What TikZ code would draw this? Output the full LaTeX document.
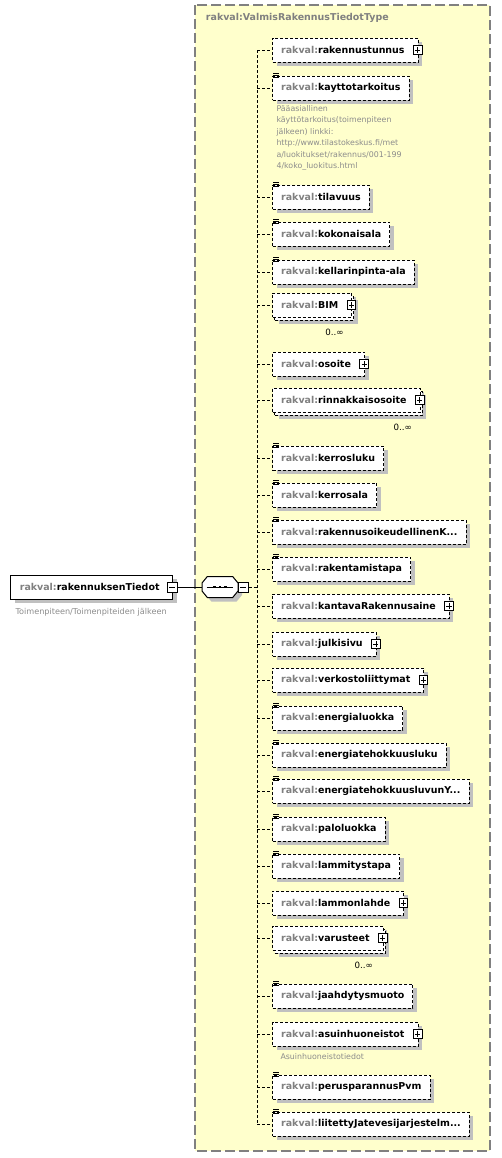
\documentclass[tikz,border=0pt]{standalone}
\usepackage{fontspec}
\setmainfont{DejaVu Sans}
\usetikzlibrary{positioning}
\usetikzlibrary{shadows}

\definecolor{rkgrey}{RGB}{128,128,128}
\definecolor{rknote}{RGB}{140,140,140}
\definecolor{rkyellow}{RGB}{255,255,204}
\definecolor{rkshadow}{RGB}{192,192,192}
\newcommand{\rk}[1]{{\color{rkgrey}rakval:}#1}
\newcommand{\listicon}[1]{%
  \foreach \d in {1.5,0,-1.5}
    \draw[line width=0.45pt] ([xshift=0.9pt, yshift=\d pt]#1.north west) -- ++(4.5pt,0);}

\tikzset{
  dotline/.style={dash pattern=on 2.25pt off 1.5pt},
  rkshade/.style={drop shadow={shadow xshift=3pt, shadow yshift=-3pt, opacity=1, fill=rkshadow}},
  elem/.style={draw, dotline, fill=white, anchor=west, minimum height=18pt,
    inner xsep=6.5pt, inner ysep=1pt, font=\fontsize{7.1}{8}\selectfont\bfseries, rkshade},
  elemx/.style={elem, execute at end node={\hspace{3.75pt}}},
  multi/.style={
    drop shadow={shadow xshift=4.5pt, shadow yshift=-5.25pt, opacity=1, fill=rkshadow},
    general shadow={shadow xshift=1.5pt, shadow yshift=-2.25pt, draw=black, fill=white, dotline}},
  plusbox/.style={draw, solid, fill=white, minimum size=6.5pt, inner sep=0pt,
    line width=0.5pt,
    path picture={
      \draw ([yshift=-1.3pt]path picture bounding box.north) -- ([yshift=1.3pt]path picture bounding box.south);
      \draw ([xshift=1.3pt]path picture bounding box.west) -- ([xshift=-1.3pt]path picture bounding box.east);}},
  minusbox/.style={draw, solid, fill=white, minimum size=7.5pt, inner sep=0pt,
    line width=0.5pt,
    path picture={
      \draw ([xshift=1.5pt]path picture bounding box.west) -- ([xshift=-1.5pt]path picture bounding box.east);}},
  seqbox/.style={minimum width=26.25pt, minimum height=15pt, inner sep=0pt},
  note/.style={text=rknote, align=left, inner sep=0pt, font=\fontsize{5.9}{8.55}\selectfont},
  many/.style={font=\fontsize{6.5}{7}\selectfont, anchor=north, inner sep=0pt}
}

\begin{document}
\begin{tikzpicture}[x=0.75pt, y=-0.75pt, line width=0.75pt]
    \useasboundingbox (0,0) rectangle (501,1158);
    \draw[draw=rkgrey, fill=rkyellow, line width=1.1pt, dash pattern=on 7.5pt off 3pt] (195,5) rectangle (490,1151);
    \node[anchor=west, text=rkgrey, font=\fontsize{7.1}{8}\selectfont\bfseries] (typename) at (201,18) {rakval:ValmisRakennusTiedotType};

    \node[elem, solid, inner xsep=7pt, execute at end node={\hspace{3pt}}] (tiedot) at (10,587) {\rk{rakennuksenTiedot}};
    \node[minusbox] (tiedot-minus) at ([xshift=-0.75pt]tiedot.east) {};
    \node[note, anchor=west, font=\fontsize{6.1}{8}\selectfont] (tiedotnote) at (15,612) {Toimenpiteen/Toimenpiteiden jälkeen};
    % sequence compositor
    \node[seqbox] (seq) at (220,587) {};
    \draw[fill=white, rkshade] ([yshift=3pt]seq.west) -- ([xshift=4pt]seq.north west)
      -- ([xshift=-4pt]seq.north east) -- ([yshift=3pt]seq.east) -- ([yshift=-3pt]seq.east)
      -- ([xshift=-4pt]seq.south east) -- ([xshift=4pt]seq.south west) -- ([yshift=-3pt]seq.west) -- cycle;
    \draw ([xshift=3.5pt]seq.west) -- ([xshift=-3.5pt]seq.east);
    \foreach \dx in {-3.8,0,3.8}
      \fill ([xshift=\dx pt]seq.center) +(-1.1pt,-1.1pt) rectangle +(1.1pt,1.1pt);
    \node[minusbox, anchor=west] (seq-minus) at (seq.east) {};
    \coordinate (trunk) at (257,587);

    \node[elemx] (rakennustunnus) at (272,50) {\rk{rakennustunnus}};
    \node[elem] (kayttotarkoitus) at (272,88) {\rk{kayttotarkoitus}};
    \node[note, anchor=north west] (kayttonote) at (276,105) {Pääasiallinen\\käyttötarkoitus(toimenpiteen\\jälkeen) linkki:\\http://www.tilastokeskus.fi/met\\a/luokitukset/rakennus/001-199\\4/koko\_luokitus.html};
    \node[elem] (tilavuus) at (272,197) {\rk{tilavuus}};
    \node[elem] (kokonaisala) at (272,234) {\rk{kokonaisala}};
    \node[elem] (kellari) at (272,272) {\rk{kellarinpinta-ala}};
    \node[elemx, multi] (bim) at (272,305) {\rk{BIM}};
    \node[many] (bim-many) at ([xshift=-13.5pt, yshift=-8pt]bim.south east) {0..∞};
    \node[elemx] (osoite) at (272,364) {\rk{osoite}};
    \node[elemx, multi] (rinnakkais) at (272,400) {\rk{rinnakkaisosoite}};
    \node[many] (rinnakkais-many) at ([xshift=-13.5pt, yshift=-8pt]rinnakkais.south east) {0..∞};
    \node[elem] (kerrosluku) at (272,458) {\rk{kerrosluku}};
    \node[elem] (kerrosala) at (272,495) {\rk{kerrosala}};
    \node[elem] (oikeus) at (272,532) {\rk{rakennusoikeudellinenK...}};
    \node[elem] (rakentamistapa) at (272,569) {\rk{rakentamistapa}};
    \node[elemx] (kantava) at (272,606) {\rk{kantavaRakennusaine}};
    \node[elemx] (julkisivu) at (272,644) {\rk{julkisivu}};
    \node[elemx] (verkosto) at (272,680) {\rk{verkostoliittymat}};
    \node[elem] (energialuokka) at (272,718) {\rk{energialuokka}};
    \node[elem] (etluku) at (272,755) {\rk{energiatehokkuusluku}};
    \node[elem] (etluvun) at (272,791) {\rk{energiatehokkuusluvunY...}};
    \node[elem] (paloluokka) at (272,829) {\rk{paloluokka}};
    \node[elem] (lammitystapa) at (272,866) {\rk{lammitystapa}};
    \node[elemx] (lammonlahde) at (272,903) {\rk{lammonlahde}};
    \node[elemx, multi] (varusteet) at (272,938) {\rk{varusteet}};
    \node[many] (varusteet-many) at ([xshift=-15pt, yshift=-8pt]varusteet.south east) {0..∞};
    \node[elem] (jaahdytys) at (272,996) {\rk{jaahdytysmuoto}};
    \node[elemx] (asuin) at (272,1034) {\rk{asuinhuoneistot}};
    \node[note, anchor=west] (asuinnote) at (280,1057) {Asuinhuoneistotiedot};
    \node[elem] (perusparannus) at (272,1087) {\rk{perusparannusPvm}};
    \node[elem] (liitetty) at (272,1124) {\rk{liitettyJatevesijarjestelm...}};

    % expand boxes and list icons
    \foreach \n in {rakennustunnus,bim,osoite,rinnakkais,kantava,julkisivu,verkosto,lammonlahde,varusteet,asuin}
      \node[plusbox] (\n-plus) at ([xshift=-0.75pt]\n.east) {};
    \foreach \n in {kayttotarkoitus,tilavuus,kokonaisala,kellari,kerrosluku,kerrosala,oikeus,rakentamistapa,energialuokka,etluku,etluvun,paloluokka,lammitystapa,jaahdytys,perusparannus,liitetty}
      \listicon{\n};

    % connectors
    \draw (tiedot-minus.east) -- (seq.west);
    \draw[dotline] (seq-minus.east) -- (trunk);
    \draw[dotline] (trunk |- rakennustunnus.west) -- (trunk |- liitetty.west);
    \foreach \n in {rakennustunnus,kayttotarkoitus,tilavuus,kokonaisala,kellari,bim,osoite,rinnakkais,kerrosluku,kerrosala,oikeus,rakentamistapa,kantava,julkisivu,verkosto,energialuokka,etluku,etluvun,paloluokka,lammitystapa,lammonlahde,varusteet,jaahdytys,asuin,perusparannus,liitetty}
      \draw[dotline] (trunk |- \n.west) -- (\n.west);
\end{tikzpicture}
\end{document}
